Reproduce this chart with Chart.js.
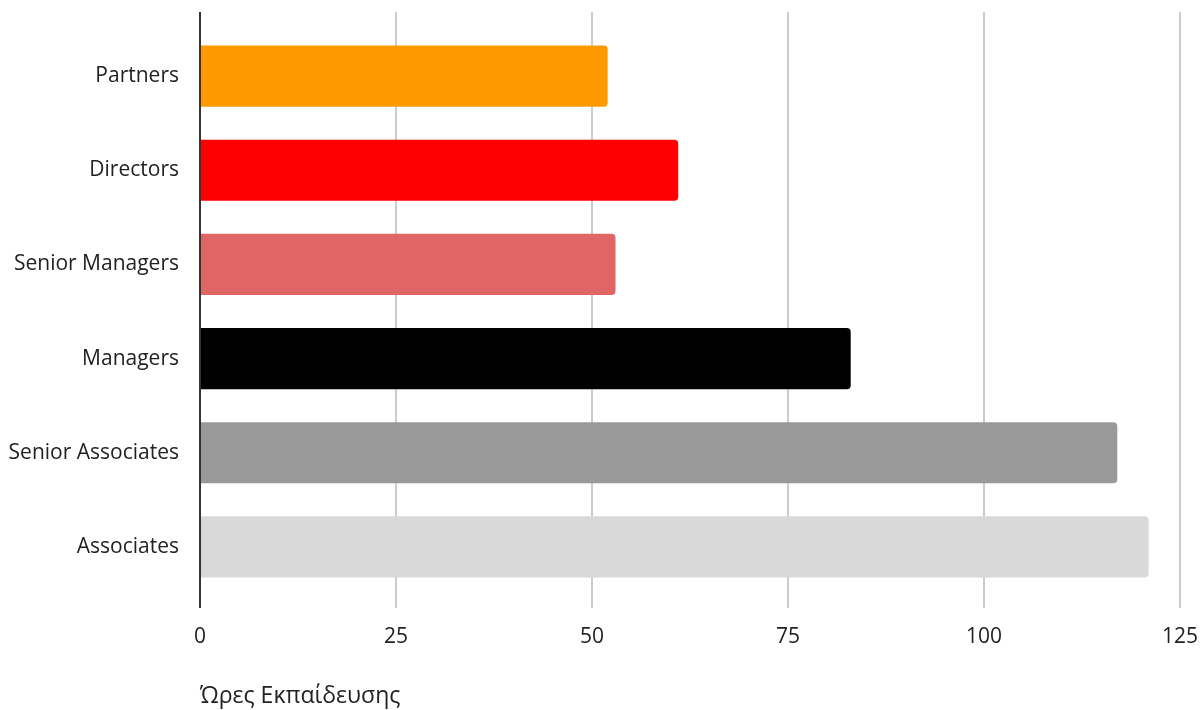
<!DOCTYPE html>
<html>
<head>
<meta charset="utf-8">
<script src="https://cdn.jsdelivr.net/npm/chart.js@4"></script>
<style>
html,body{margin:0;padding:0;background:#fff;}
#wrap{width:1201px;height:710px;}
</style>
</head>
<body>
<div id="wrap"><canvas id="c" width="1201" height="710"></canvas></div>
<script>
const categories = ["Partners", "Directors", "Senior Managers", "Managers", "Senior Associates", "Associates"];
const hours = [52, 61, 53, 83, 117, 121];
const barColors = ["#FF9900", "#FF0000", "#E06666", "#000000", "#999999", "#D9D9D9"];
const xTicks = [0, 25, 50, 75, 100, 125];
const axisTitle = "Ώρες Εκπαίδευσης";

const FONT = "'Open Sans', 'Noto Sans', sans-serif";

const extendedGrid = {
  id: 'extendedGrid',
  beforeDatasetsDraw(chart) {
    const ctx = chart.ctx;
    const x = chart.scales.x;
    const top = chart.chartArea.top - 17;
    const bottom = chart.chartArea.bottom + 14;
    ctx.save();
    ctx.lineWidth = 2;
    ctx.strokeStyle = '#cccccc';
    xTicks.forEach(v => {
      if (v === 0) return;
      const px = Math.round(x.getPixelForValue(v));
      ctx.beginPath();
      ctx.moveTo(px, top);
      ctx.lineTo(px, bottom);
      ctx.stroke();
    });
    ctx.restore();
  },
  afterDatasetsDraw(chart) {
    const ctx = chart.ctx;
    const x = chart.scales.x;
    const top = chart.chartArea.top - 17;
    const bottom = chart.chartArea.bottom + 14;
    ctx.save();
    ctx.lineWidth = 2;
    ctx.strokeStyle = '#333333';
    const px = Math.round(x.getPixelForValue(0));
    ctx.beginPath();
    ctx.moveTo(px, top);
    ctx.lineTo(px, bottom);
    ctx.stroke();
    ctx.restore();
  }
};

new Chart(document.getElementById('c'), {
  type: 'bar',
  data: {
    labels: categories,
    datasets: [{
      data: hours,
      backgroundColor: barColors,
      borderRadius: 4,
      borderSkipped: 'start',
      barPercentage: 0.65,
      categoryPercentage: 1.0
    }]
  },
  options: {
    indexAxis: 'y',
    responsive: false,
    animation: false,
    devicePixelRatio: 1,
    layout: { padding: { top: 29, right: 0, bottom: 0, left: 0 } },
    plugins: { legend: { display: false }, tooltip: { enabled: false } },
    scales: {
      x: {
        min: 0, max: 125,
        afterBuildTicks(scale) { scale.ticks = xTicks.map(v => ({ value: v })); },
        afterFit(scale) { scale.height = 116; scale.paddingRight = 21; scale.paddingLeft = 0; },
        grid: { display: false },
        border: { display: false },
        ticks: { color: '#222222', font: { size: 21, family: FONT }, padding: 22 },
        title: {
          display: true,
          text: axisTitle,
          align: 'start',
          color: '#222222',
          font: { size: 23, family: FONT },
          padding: { top: 35, bottom: 0 }
        }
      },
      y: {
        afterFit(scale) { scale.width = 200; scale.paddingTop = 0; scale.paddingBottom = 0; },
        grid: { display: false },
        border: { display: false },
        ticks: { color: '#222222', font: { size: 21, family: FONT }, padding: 13 }
      }
    }
  },
  plugins: [extendedGrid]
});
</script>
</body>
</html>
